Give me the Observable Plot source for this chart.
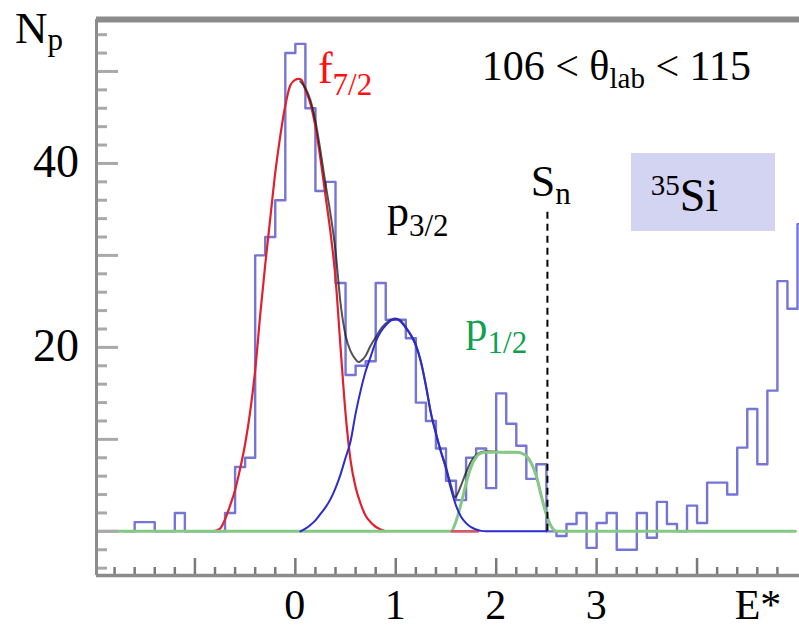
<!DOCTYPE html>
<html><head><meta charset="utf-8">
<script src="https://cdn.jsdelivr.net/npm/d3@7"></script>
<script src="https://cdn.jsdelivr.net/npm/@observablehq/plot@0.6"></script>
<style>
body{margin:0;background:#fff;}
#chart{width:799px;height:629px;}
</style></head><body><div id="chart"></div>
<script>
// ---- Histogram (E* in MeV: bin edges, counts) ----
const histEdges = [-1.7,-1.6,-1.5,-1.4,-1.3,-1.2,-1.1,-1.0,-0.9,-0.8,-0.7,-0.6,-0.5,-0.4,-0.3,-0.2,-0.1,0,0.1,0.2,0.3,0.4,0.5,0.6,0.7,0.8,0.9,1.0,1.1,1.2,1.3,1.4,1.5,1.6,1.7,1.8,1.9,2.0,2.1,2.2,2.3,2.4,2.5,2.6,2.7,2.8,2.9,3.0,3.1,3.2,3.3,3.4,3.5,3.6,3.7,3.8,3.9,4.0,4.1,4.2,4.3,4.4,4.5,4.6,4.7,4.8,4.9,5.0,5.1];
const histCount = [0,1,1,0,0,2,0,0,0,0, 2,7,8,30,32,36,52,53,46,37, 38,27,17,18,18.5,27,23,23,21,14, 12,9,5.5,3.4,8,9,4.7,15,11.7,9.3, 5.7,7.3,0,-0.5,0.8,2,-1.8,0.9,2,-2, -2,2,-0.7,3.2,0.8,0,2.8,0.9,5.3,5.3, 4,9.1,13.3,7.3,15.3,27.2,24.2,33.4];

// ---- fitted components ----
const redE = [-0.82,-0.75,-0.7,-0.65,-0.6,-0.55,-0.5,-0.45,-0.4,-0.35,-0.3,-0.25,-0.2,-0.15,-0.1,-0.05,0,0.03,0.06,0.1,0.15,0.2,0.25,0.3,0.35,0.4,0.45,0.5,0.55,0.6,0.65,0.7,0.75,0.8,0.85,0.9];
const redN = [0,0.3,1.3,2.8,4.5,6.8,9.5,13,17.5,23.5,29,34,39,43,46.3,48.5,49.1,49.2,49.1,48,46.5,44,40.5,36.5,32.5,27.5,20,12.8,7.7,4.8,3,1.7,1,0.5,0.2,0];
const redTailE = [1.56,1.82];
const redTailN = [0,0];

const blueE = [0.05,0.1,0.15,0.2,0.25,0.3,0.35,0.4,0.45,0.5,0.55,0.6,0.65,0.7,0.75,0.8,0.85,0.9,0.95,1.0,1.05,1.1,1.15,1.2,1.25,1.3,1.35,1.4,1.45,1.5,1.55,1.6,1.65,1.7,1.75,1.8,1.85,1.9,2.5];
const blueN = [0,0.3,0.7,1.2,1.9,2.6,3.5,4.7,6.2,8.0,9.8,12.8,15.3,17.4,19,20.6,21.7,22.4,22.9,23.1,22.8,22.1,21.3,20.2,18.4,15.8,12.8,10.6,8.6,6.8,4.6,2.8,1.6,0.9,0.45,0.2,0.05,0,0];

const greenE = [-1.98,1.55,1.6,1.65,1.7,1.75,1.8,1.85,1.9,2.0,2.1,2.2,2.25,2.3,2.35,2.4,2.45,2.5,2.55,2.6,4.98];
const greenN = [0,0,1.1,3.0,5.2,7.0,8.1,8.5,8.6,8.6,8.6,8.6,8.5,8.2,7.4,6.0,3.8,1.8,0.5,0,0];

// total fit (visible where it departs from the red curve)
const blackE = [0.05,0.1,0.15,0.2,0.25,0.3,0.35,0.4,0.45,0.5,0.55,0.6,0.63,0.65,0.7,0.75,0.8,0.85,0.9,0.95,1.0,1.05,1.1,1.15,1.2,1.25,1.3,1.35,1.4,1.45,1.5,1.55,1.59,1.62,1.65,1.7,1.75,1.8,1.85,1.9,2.0,2.1,2.2,2.25,2.3,2.35,2.4,2.45,2.5,2.55,2.6];
const blackN = [48.9,48.2,46.9,44.6,41.4,37.8,34.5,30.5,24.8,21.3,19.6,18.7,18.4,18.5,19.1,20.2,21.1,22,22.6,23,23.15,22.9,22.2,21.4,20.3,18.5,15.9,12.9,10.7,8.7,7.0,5.0,3.7,4.2,5.0,6.4,7.6,8.3,8.6,8.7,8.65,8.6,8.6,8.5,8.2,7.4,6.0,3.8,1.8,0.5,0];

// ---- axes ----
const xDomain = [-1.98, 5.02];
const yDomain = [-4.8, 55.65];
const xTicksMajor = [-1,0,1,2,3,4];
const xTicksMinor = [-1.8,-1.6,-1.4,-1.2,-0.8,-0.6,-0.4,-0.2,0.2,0.4,0.6,0.8,1.2,1.4,1.6,1.8,2.2,2.4,2.6,2.8,3.2,3.4,3.6,3.8,4.2,4.4,4.6,4.8];
const xTickLabels = [0,1,2,3];
const yTicksMajor = [0,10,20,30,40,50];
const yTicksMinor = [-4,-2,2,4,6,8,12,14,16,18,22,24,26,28,32,34,36,38,42,44,46,48,52,54];
const yTickLabels = [20,40];

// ---- annotations ----
const snE = 2.51, snTop = 35.2;
const siBox = {x1: 3.347, x2: 4.781, y1: 32.6, y2: 41.08};

const histPts = histCount.map((c,i)=>({x: histEdges[i], y: c}));
histPts.push({x: histEdges[histEdges.length-1], y: histCount[histCount.length-1]});
const pts = (E,N)=>E.map((e,i)=>({x:e,y:N[i]}));

const W = 799, H = 629, mL = 96, mR = 0, mT = 19, mB = 54;
const frameW = W-mL-mR, frameH = H-mT-mB;
const gray = "#8c8c8c";

const plot = Plot.plot({
  width: W, height: H,
  marginLeft: mL, marginRight: mR, marginTop: mT, marginBottom: mB,
  x: {domain: xDomain, axis: null},
  y: {domain: yDomain, axis: null},
  style: {background: "#fff", fontFamily: "Liberation Serif, Times New Roman, serif"},
  marks: [
    Plot.rect([siBox], {x1:"x1", x2:"x2", y1:"y1", y2:"y2", fill:"#d3d4f2"}),
    Plot.line(histPts, {x:"x", y:"y", curve:"step-after", stroke:"#7575d5", strokeWidth:2.4}),
    Plot.line(pts(redE,redN), {x:"x", y:"y", curve:"monotone-x", stroke:"#e0202e", strokeWidth:2.2}),
    Plot.line(pts(blackE,blackN), {x:"x", y:"y", curve:"monotone-x", stroke:"#1a1a1a", strokeWidth:2, strokeOpacity:0.75}),
    Plot.line(pts(greenE,greenN), {x:"x", y:"y", curve:"monotone-x", stroke:"#86c986", strokeWidth:3}),
    Plot.line(pts(redTailE,redTailN), {x:"x", y:"y", stroke:"#d85a6a", strokeWidth:2.6}),
    Plot.line(pts(blueE,blueN), {x:"x", y:"y", curve:"monotone-x", stroke:"#2b2bd0", strokeWidth:2}),
    Plot.ruleX([snE], {y1:0, y2:snTop, stroke:"#000", strokeWidth:2, strokeDasharray:"7,5"}),
    // y ticks (inward)
    Plot.tickY(yTicksMinor, {y:d=>d, stroke:"#a9a9a9", strokeWidth:3, insetRight: frameW-11}),
    Plot.tickY(yTicksMajor, {y:d=>d, stroke:"#a9a9a9", strokeWidth:3, insetRight: frameW-22}),
    // x ticks (upward)
    Plot.tickX(xTicksMinor, {x:d=>d, stroke:"#7a7a7a", strokeWidth:2.5, insetTop: frameH-8}),
    Plot.tickX(xTicksMajor, {x:d=>d, stroke:"#7a7a7a", strokeWidth:2.5, insetTop: frameH-17}),
    // frame lines
    Plot.ruleX([xDomain[0]], {stroke: gray, strokeWidth:3}),
    Plot.ruleY([yDomain[0]], {stroke: gray, strokeWidth:3.5}),
    Plot.ruleY([yDomain[1]], {stroke: gray, strokeWidth:6})
  ]
});
document.getElementById("chart").appendChild(plot);

// ---- text through the plot's scales ----
const xs = plot.scale("x"), ys = plot.scale("y");
const svg = d3.select(plot);
const FONT = "Liberation Serif, Times New Roman, serif";
function rich(E, N, parts, color, anchor) {
  const t = svg.append("text")
    .attr("x", xs.apply(E)).attr("y", ys.apply(N))
    .attr("fill", color || "#000").attr("font-family", FONT)
    .attr("text-anchor", anchor || "start");
  let shift = 0;
  for (const [s, size, off] of parts) {
    t.append("tspan").attr("font-size", size).attr("dy", off - shift).text(s);
    shift = off;
  }
}
// axis labels
for (const v of xTickLabels) rich(v, -9.6, [[String(v), 42, 0]], "#000", "middle");
for (const v of yTickLabels) rich(-2.15, v - 1.55, [[String(v), 46, 0]], "#000", "end");
rich(4.38, -9.6, [["E*", 42, 0]]);
// annotations
rich(-2.787, 53.04, [["N", 45, 0], ["p", 31, 7]]);
rich(1.86, 49.0, [["106 < θ", 42, 0], ["lab", 29, 8], [" < 115", 42, 0]]);
rich(0.23, 48.7, [["f", 44, 0], ["7/2", 31, 12]], "#ff1010");
rich(0.917, 33.1, [["p", 44, 0], ["3/2", 31, 10]]);
rich(1.70, 20.6, [["p", 44, 0], ["1/2", 31, 12]], "#10a050");
rich(2.35, 36.4, [["S", 44, 0], ["n", 31, 8]]);
rich(3.545, 34.77, [["35", 29, -16], ["Si", 46, 0]]);
</script></body></html>
